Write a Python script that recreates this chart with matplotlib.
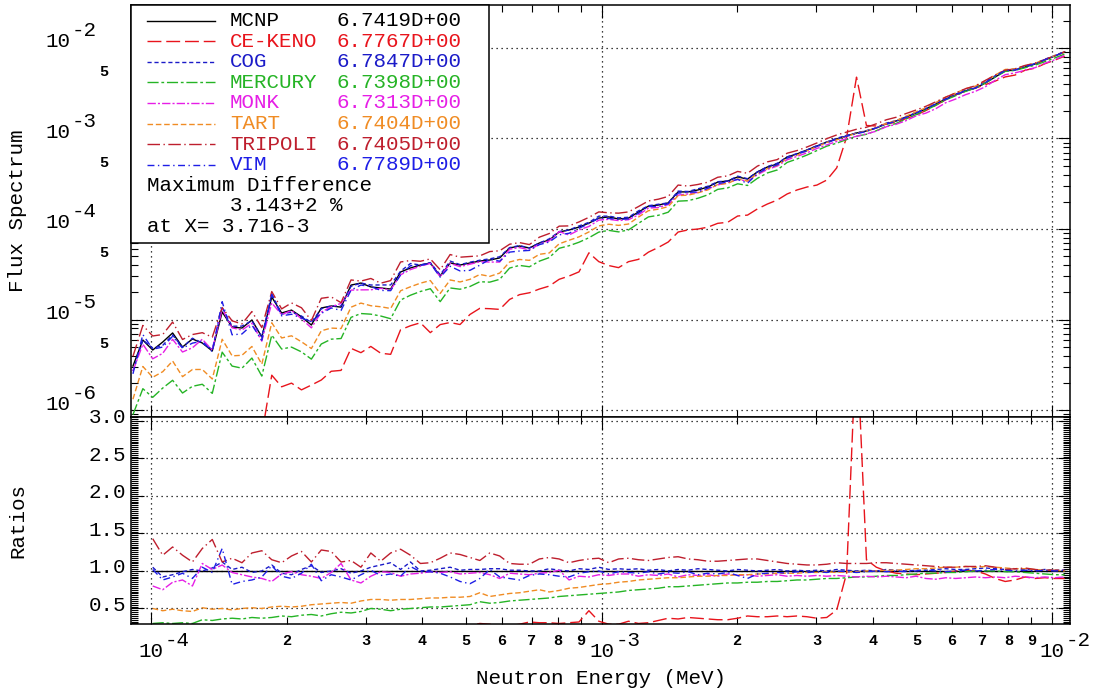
import matplotlib

matplotlib.use("Agg")
import matplotlib.pyplot as plt
import numpy as np
from matplotlib.lines import Line2D
from matplotlib.patches import Rectangle
from matplotlib.ticker import FixedLocator, LogLocator, MultipleLocator, NullFormatter

# group energies (MeV)
energy = np.array([
    9.120e-5, 9.594e-5, 1.009e-4, 1.062e-4, 1.117e-4, 1.175e-4, 1.236e-4, 1.300e-4, 1.368e-4, 1.439e-4,
    1.514e-4, 1.592e-4, 1.675e-4, 1.762e-4, 1.854e-4, 1.950e-4, 2.051e-4, 2.158e-4, 2.270e-4, 2.388e-4,
    2.512e-4, 2.642e-4, 2.780e-4, 2.924e-4, 3.076e-4, 3.236e-4, 3.404e-4, 3.581e-4, 3.767e-4, 3.963e-4,
    4.169e-4, 4.385e-4, 4.613e-4, 4.853e-4, 5.105e-4, 5.370e-4, 5.649e-4, 5.943e-4, 6.252e-4, 6.577e-4,
    6.918e-4, 7.278e-4, 7.656e-4, 8.054e-4, 8.472e-4, 8.913e-4, 9.376e-4, 9.863e-4, 1.038e-3, 1.091e-3,
    1.148e-3, 1.208e-3, 1.271e-3, 1.337e-3, 1.406e-3, 1.479e-3, 1.556e-3, 1.637e-3, 1.722e-3, 1.811e-3,
    1.906e-3, 2.005e-3, 2.109e-3, 2.218e-3, 2.334e-3, 2.455e-3, 2.582e-3, 2.716e-3, 2.858e-3, 3.006e-3,
    3.162e-3, 3.327e-3, 3.500e-3, 3.681e-3, 3.873e-3, 4.074e-3, 4.286e-3, 4.508e-3, 4.742e-3, 4.989e-3,
    5.248e-3, 5.521e-3, 5.808e-3, 6.109e-3, 6.427e-3, 6.761e-3, 7.112e-3, 7.482e-3, 7.871e-3, 8.279e-3,
    8.710e-3, 9.162e-3, 9.638e-3, 1.014e-2, 1.067e-2,
])

# reference (MCNP) flux spectrum
flux_mcnp = np.array([
    3.06e-6, 5.93e-6, 4.60e-6, 5.64e-6, 7.10e-6, 4.97e-6, 6.09e-6, 5.50e-6, 4.49e-6, 1.21e-5,
    8.26e-6, 8.05e-6, 9.87e-6, 6.41e-6, 1.77e-5, 1.18e-5, 1.27e-5, 1.07e-5, 8.69e-6, 1.34e-5,
    1.41e-5, 1.37e-5, 2.40e-5, 2.53e-5, 2.29e-5, 2.23e-5, 2.17e-5, 3.35e-5, 3.71e-5, 4.00e-5,
    4.21e-5, 3.03e-5, 4.21e-5, 4.00e-5, 4.21e-5, 4.43e-5, 4.54e-5, 4.79e-5, 6.17e-5, 6.49e-5,
    6.17e-5, 7.00e-5, 7.55e-5, 9.27e-5, 9.75e-5, 1.05e-4, 1.16e-4, 1.32e-4, 1.36e-4, 1.29e-4,
    1.32e-4, 1.54e-4, 1.79e-4, 1.84e-4, 1.94e-4, 2.57e-4, 2.57e-4, 2.70e-4, 2.91e-4, 3.30e-4,
    3.39e-4, 3.76e-4, 3.56e-4, 4.27e-4, 4.84e-4, 5.22e-4, 6.25e-4, 6.75e-4, 7.46e-4, 8.26e-4,
    9.14e-4, 9.86e-4, 1.07e-3, 1.15e-3, 1.21e-3, 1.31e-3, 1.45e-3, 1.56e-3, 1.73e-3, 1.91e-3,
    2.12e-3, 2.40e-3, 2.73e-3, 3.03e-3, 3.35e-3, 3.61e-3, 4.10e-3, 4.79e-3, 5.57e-3, 5.71e-3,
    6.17e-3, 6.65e-3, 7.36e-3, 8.16e-3, 9.03e-3,
])

# ratios to MCNP (0 = no score in that group)
ratio_ce_keno = np.array([
    0, 0, 0, 0, 0, 0, 0, 0, 0, 0,
    0, 0, 0, 0.083, 0.137, 0.153, 0.156, 0.156, 0.217, 0.16,
    0.19, 0.20, 0.20, 0.17, 0.22, 0.19, 0.19, 0.23, 0.23, 0.23,
    0.17, 0.29, 0.22, 0.22, 0.27, 0.30, 0.29, 0.27, 0.27, 0.29,
    0.32, 0.31, 0.31, 0.30, 0.31, 0.32, 0.47, 0.33, 0.29, 0.29,
    0.33, 0.30, 0.31, 0.34, 0.37, 0.36, 0.38, 0.37, 0.36, 0.35,
    0.35, 0.37, 0.40, 0.39, 0.39, 0.40, 0.39, 0.40, 0.39, 0.37,
    0.38, 0.48, 0.97, 4.14, 1.15, 1.05, 1.00, 0.97, 0.96, 0.95,
    0.96, 0.97, 0.98, 1.00, 1.01, 1.00, 0.96, 0.90, 0.86, 0.88,
    0.92, 0.90, 0.91, 0.90, 0.90,
])
ratio_cog = np.array([
    0.88, 1.00, 1.05, 0.92, 0.95, 0.99, 1.02, 1.00, 1.04, 1.12,
    1.02, 1.05, 0.98, 1.00, 1.08, 0.97, 0.95, 1.02, 1.07, 0.98,
    1.00, 1.03, 0.97, 1.00, 1.05, 1.08, 1.11, 1.02, 1.12, 1.00,
    1.01, 1.03, 1.05, 1.01, 1.02, 1.02, 1.03, 1.03, 1.01, 1.01,
    1.00, 1.00, 1.03, 1.01, 1.00, 1.03, 1.02, 1.05, 1.02, 1.03,
    1.02, 1.03, 1.01, 1.02, 1.00, 1.02, 1.01, 1.03, 1.02, 1.01,
    1.00, 1.02, 1.01, 1.00, 1.01, 1.02, 1.00, 1.01, 1.00, 1.01,
    1.00, 1.02, 1.01, 1.00, 1.01, 1.00, 1.02, 1.01, 1.00, 1.01,
    1.01, 1.02, 1.03, 1.02, 1.02, 1.03, 1.04, 1.03, 1.02, 1.03,
    1.02, 1.01, 1.02, 1.01, 1.01,
])
ratio_mercury = np.array([
    0.29, 0.29, 0.30, 0.31, 0.30, 0.31, 0.30, 0.35, 0.34, 0.36,
    0.37, 0.36, 0.38, 0.37, 0.38, 0.40, 0.39, 0.41, 0.42, 0.40,
    0.43, 0.45, 0.44, 0.46, 0.50, 0.49, 0.47, 0.49, 0.50, 0.51,
    0.52, 0.52, 0.53, 0.54, 0.55, 0.59, 0.57, 0.58, 0.60, 0.61,
    0.62, 0.63, 0.64, 0.66, 0.67, 0.68, 0.69, 0.70, 0.71, 0.72,
    0.74, 0.75, 0.76, 0.77, 0.79, 0.79, 0.80, 0.81, 0.82, 0.83,
    0.84, 0.84, 0.85, 0.85, 0.86, 0.86, 0.87, 0.88, 0.88, 0.89,
    0.90, 0.90, 0.91, 0.92, 0.92, 0.93, 0.94, 0.94, 0.95, 0.96,
    0.97, 0.97, 0.98, 0.98, 0.99, 1.00, 1.00, 1.00, 0.99, 0.99,
    0.98, 0.97, 0.96, 0.95, 0.95,
])
ratio_monk = np.array([
    0.88, 0.90, 0.80, 0.75, 0.85, 0.88, 0.80, 1.10, 1.02, 1.08,
    0.98, 0.95, 0.92, 0.90, 0.86, 0.96, 0.99, 0.95, 0.93, 0.90,
    0.98, 1.10, 0.88, 0.84, 0.93, 0.99, 0.98, 0.93, 0.96, 0.97,
    0.99, 0.98, 0.99, 0.96, 0.97, 0.98, 0.95, 0.90, 0.97, 0.96,
    0.95, 0.97, 0.98, 1.01, 0.88, 0.93, 0.92, 0.95, 0.94, 0.96,
    0.96, 0.93, 0.95, 0.94, 0.96, 0.92, 0.95, 0.94, 0.95, 0.93,
    0.96, 0.94, 0.95, 0.93, 0.94, 0.95, 0.93, 0.94, 0.93, 0.94,
    0.93, 0.94, 0.93, 0.92, 0.93, 0.92, 0.93, 0.92, 0.91, 0.93,
    0.90, 0.89, 0.91, 0.90, 0.91, 0.92, 0.91, 0.92, 0.91, 0.93,
    0.92, 0.91, 0.92, 0.91, 0.92,
])
ratio_tart = np.array([
    0.43, 0.51, 0.50, 0.47, 0.49, 0.47, 0.46, 0.51, 0.49, 0.50,
    0.48, 0.50, 0.51, 0.50, 0.52, 0.53, 0.52, 0.53, 0.55, 0.56,
    0.57, 0.58, 0.57, 0.60, 0.62, 0.62, 0.61, 0.62, 0.62, 0.63,
    0.64, 0.64, 0.65, 0.65, 0.66, 0.71, 0.66, 0.68, 0.70, 0.71,
    0.73, 0.75, 0.72, 0.74, 0.77, 0.78, 0.80, 0.82, 0.83, 0.85,
    0.86, 0.88, 0.89, 0.90, 0.91, 0.91, 0.92, 0.93, 0.93, 0.94,
    0.94, 0.95, 0.95, 0.96, 0.96, 0.97, 0.97, 0.97, 0.98, 0.98,
    0.99, 0.98, 0.99, 0.99, 1.00, 1.00, 1.01, 1.01, 1.02, 1.03,
    1.03, 1.04, 1.05, 1.05, 1.06, 1.05, 1.06, 1.05, 1.04, 1.03,
    1.03, 1.02, 1.01, 1.01, 1.00,
])
ratio_tripoli = np.array([
    1.28, 1.45, 1.43, 1.21, 1.32, 1.21, 1.12, 1.30, 1.42, 1.12,
    1.17, 1.11, 1.24, 1.27, 1.15, 1.11, 1.20, 1.26, 1.12, 1.28,
    1.26, 1.12, 1.14, 1.05, 1.24, 1.13, 1.24, 1.29, 1.21, 1.10,
    1.11, 1.17, 1.24, 1.22, 1.18, 1.14, 1.24, 1.20, 1.10, 1.09,
    1.09, 1.16, 1.18, 1.16, 1.11, 1.14, 1.16, 1.17, 1.11, 1.16,
    1.17, 1.15, 1.14, 1.16, 1.18, 1.19, 1.16, 1.15, 1.13, 1.13,
    1.14, 1.15, 1.16, 1.16, 1.14, 1.12, 1.10, 1.09, 1.08, 1.08,
    1.09, 1.11, 1.10, 1.10, 1.10, 1.11, 1.11, 1.10, 1.09, 1.08,
    1.07, 1.06, 1.05, 1.05, 1.06, 1.06, 1.07, 1.05, 1.02, 1.03,
    1.04, 1.02, 1.01, 1.01, 1.01,
])
ratio_vim = np.array([
    0.82, 1.15, 1.02, 0.88, 0.92, 0.97, 0.90, 1.05, 0.98, 1.30,
    0.82, 0.86, 0.88, 0.92, 1.07, 0.93, 0.90, 0.97, 1.09, 0.87,
    0.95, 0.92, 0.88, 0.95, 1.01, 0.94, 0.96, 0.93, 1.06, 0.99,
    0.99, 0.97, 0.92, 0.86, 0.83, 0.90, 1.02, 0.92, 0.90, 0.88,
    0.94, 0.96, 0.95, 0.93, 0.92, 0.97, 0.99, 1.00, 0.96, 0.99,
    0.98, 0.97, 0.99, 0.96, 0.98, 0.97, 0.99, 0.95, 0.97, 0.96,
    0.98, 0.94, 0.90, 0.96, 0.97, 0.98, 0.97, 0.99, 0.98, 0.99,
    0.98, 1.00, 0.99, 0.98, 0.99, 1.00, 0.99, 1.00, 0.99, 1.00,
    1.01, 1.00, 0.99, 1.00, 1.01, 1.00, 1.01, 1.02, 1.01, 1.00,
    1.01, 1.00, 1.01, 1.00, 1.01,
])

codes = ["MCNP", "CE-KENO", "COG", "MERCURY", "MONK", "TART", "TRIPOLI", "VIM"]
totals = ["6.7419D+00", "6.7767D+00", "6.7847D+00", "6.7398D+00",
          "6.7313D+00", "6.7404D+00", "6.7405D+00", "6.7789D+00"]
max_diff = "3.143+2 %"
max_diff_at = "3.716-3"

ratios = {
    "MCNP": np.ones_like(flux_mcnp),
    "CE-KENO": ratio_ce_keno,
    "COG": ratio_cog,
    "MERCURY": ratio_mercury,
    "MONK": ratio_monk,
    "TART": ratio_tart,
    "TRIPOLI": ratio_tripoli,
    "VIM": ratio_vim,
}

colors = {
    "MCNP": "#000000",
    "CE-KENO": "#e8141c",
    "COG": "#1b1bc8",
    "MERCURY": "#25b425",
    "MONK": "#e61ee6",
    "TART": "#f08c24",
    "TRIPOLI": "#be1e2d",
    "VIM": "#1e1ee6",
}
styles = {
    "MCNP": "-",
    "CE-KENO": (0, (10, 3.5)),
    "COG": (0, (3, 2)),
    "MERCURY": (0, (8, 2, 2, 2)),
    "MONK": (0, (6, 1.5, 1.5, 1.5)),
    "TART": (0, (4, 2)),
    "TRIPOLI": (0, (9, 2.5, 1, 2.5)),
    "VIM": (0, (5, 2.5, 1, 2.5)),
}

MONO = "Liberation Mono"
W, H = 1099, 694
AX_L, AX_R, AX_T, AX_MID, AX_B = 131, 1070, 5, 417, 624

fig = plt.figure(figsize=(W / 100, H / 100), dpi=100)
ax1 = fig.add_axes([AX_L / W, 1 - AX_MID / H, (AX_R - AX_L) / W, (AX_MID - AX_T) / H])
ax2 = fig.add_axes([AX_L / W, 1 - AX_B / H, (AX_R - AX_L) / W, (AX_B - AX_MID) / H])

grid_kw = dict(color="black", linestyle=(0, (1, 3)), linewidth=0.9)

for name in codes:
    flux = flux_mcnp * ratios[name]
    ax1.plot(energy, flux, color=colors[name], linestyle=styles[name], lw=1.0)

# ratio panel starts at 1e-4 MeV
sel = energy >= 1e-4
for name in codes:
    ax2.plot(energy[sel], ratios[name][sel], color=colors[name], linestyle=styles[name], lw=1.0)

for ax in (ax1, ax2):
    ax.set_xscale("log")
    ax.set_xlim(9.03e-5, 1.096e-2)
    ax.xaxis.set_major_locator(FixedLocator([1e-4, 1e-3, 1e-2]))
    ax.xaxis.set_minor_locator(LogLocator(base=10, subs=np.arange(2, 10), numticks=20))
    ax.xaxis.set_minor_formatter(NullFormatter())
    ax.tick_params(which="both", direction="in", top=True, right=True,
                   labelbottom=False, labelleft=False, width=0.8, color="black")
    ax.tick_params(which="major", length=9)
    ax.tick_params(which="minor", length=5)
    ax.grid(True, which="major", **grid_kw)
    for sp in ax.spines.values():
        sp.set_linewidth(1.1)

ax1.set_yscale("log", nonpositive="mask")
ax1.set_ylim(8.37e-7, 2.985e-2)
ax1.yaxis.set_major_locator(FixedLocator([1e-6, 1e-5, 1e-4, 1e-3, 1e-2]))
ax1.yaxis.set_minor_locator(LogLocator(base=10, subs=np.arange(2, 10), numticks=20))
ax1.yaxis.set_minor_formatter(NullFormatter())

ax2.set_ylim(0.293, 3.053)
ax2.yaxis.set_major_locator(MultipleLocator(0.5))
ax2.yaxis.set_minor_locator(MultipleLocator(0.025))
ax2.tick_params(axis="y", which="minor", length=5)


def put(ax, s, xy, coords, dx, dy, size=15, ha="center", weight="normal"):
    ax.annotate(s, xy=xy, xycoords=coords, xytext=(dx, dy), textcoords="offset pixels",
                ha=ha, va="center", fontsize=size, family=MONO, weight=weight,
                annotation_clip=False)


# flux axis labels
for n in range(2, 7):
    put(ax1, "10", (0, 10.0 ** -n), ("axes fraction", "data"), -73, 6)
    put(ax1, f"-{n}", (0, 10.0 ** -n), ("axes fraction", "data"), -59, 17, ha="left")
for n in range(3, 7):
    put(ax1, "5", (0, 5 * 10.0 ** -n), ("axes fraction", "data"), -27, 3, size=11, weight="bold")

# ratio axis labels
for v in [0.5, 1.0, 1.5, 2.0, 2.5, 3.0]:
    put(ax2, f"{v:.1f}", (0, v), ("axes fraction", "data"), -5, 3, ha="right")

# energy axis labels
for n in range(2, 5):
    put(ax2, "10", (10.0 ** -n, 0), ("data", "axes fraction"), 0, -27.5)
    put(ax2, f"-{n}", (10.0 ** -n, 0), ("data", "axes fraction"), 14, -17, ha="left")
for n in (3, 4):
    for m in range(2, 10):
        put(ax2, str(m), (m * 10.0 ** -n, 0), ("data", "axes fraction"), 0, -17, size=11, weight="bold")

fig.text(17.5 / W, 1 - 211 / H, "Flux Spectrum", rotation=90, ha="center", va="center",
         fontsize=15, family=MONO)
fig.text(17.5 / W, 1 - 520.5 / H, "Ratios", rotation=90, ha="center", va="center",
         fontsize=15, family=MONO)
fig.text(601 / W, 1 - 678 / H, "Neutron Energy (MeV)", ha="center", va="center",
         fontsize=15, family=MONO)


# legend box in the upper left of the flux panel
def frac(xp, yp):
    return (xp - AX_L) / (AX_R - AX_L), (AX_MID - yp) / (AX_MID - AX_T)


x0, y0 = frac(AX_L, 243)
x1, _ = frac(489, 0)
ax1.add_patch(Rectangle((x0, y0), x1 - x0, 1 - y0, transform=ax1.transAxes,
                        facecolor="white", edgecolor="black", lw=1.1, zorder=5, clip_on=False))

row_y = [20.5 + 20.6 * k for k in range(11)]
for k, name in enumerate(codes):
    ya = frac(0, row_y[k])[1]
    xa, xb = frac(147, 0)[0], frac(215, 0)[0]
    ax1.add_line(Line2D([xa, xb], [ya, ya], transform=ax1.transAxes, color=colors[name],
                        linestyle=styles[name], lw=1.0, zorder=6))
    ax1.text(frac(230, 0)[0], ya, name, transform=ax1.transAxes, color=colors[name],
             fontsize=15, family=MONO, va="center", zorder=6)
    ax1.text(frac(337, 0)[0], ya, totals[k], transform=ax1.transAxes, color=colors[name],
             fontsize=15, family=MONO, va="center", zorder=6)

ax1.text(frac(147, 0)[0], frac(0, row_y[8])[1], "Maximum Difference", transform=ax1.transAxes,
         fontsize=15, family=MONO, va="center", zorder=6)
ax1.text(frac(230, 0)[0], frac(0, row_y[9])[1], max_diff, transform=ax1.transAxes,
         fontsize=15, family=MONO, va="center", zorder=6)
ax1.text(frac(147, 0)[0], frac(0, row_y[10])[1], "at X= " + max_diff_at, transform=ax1.transAxes,
         fontsize=15, family=MONO, va="center", zorder=6)

fig.savefig("out.png", dpi=100)
